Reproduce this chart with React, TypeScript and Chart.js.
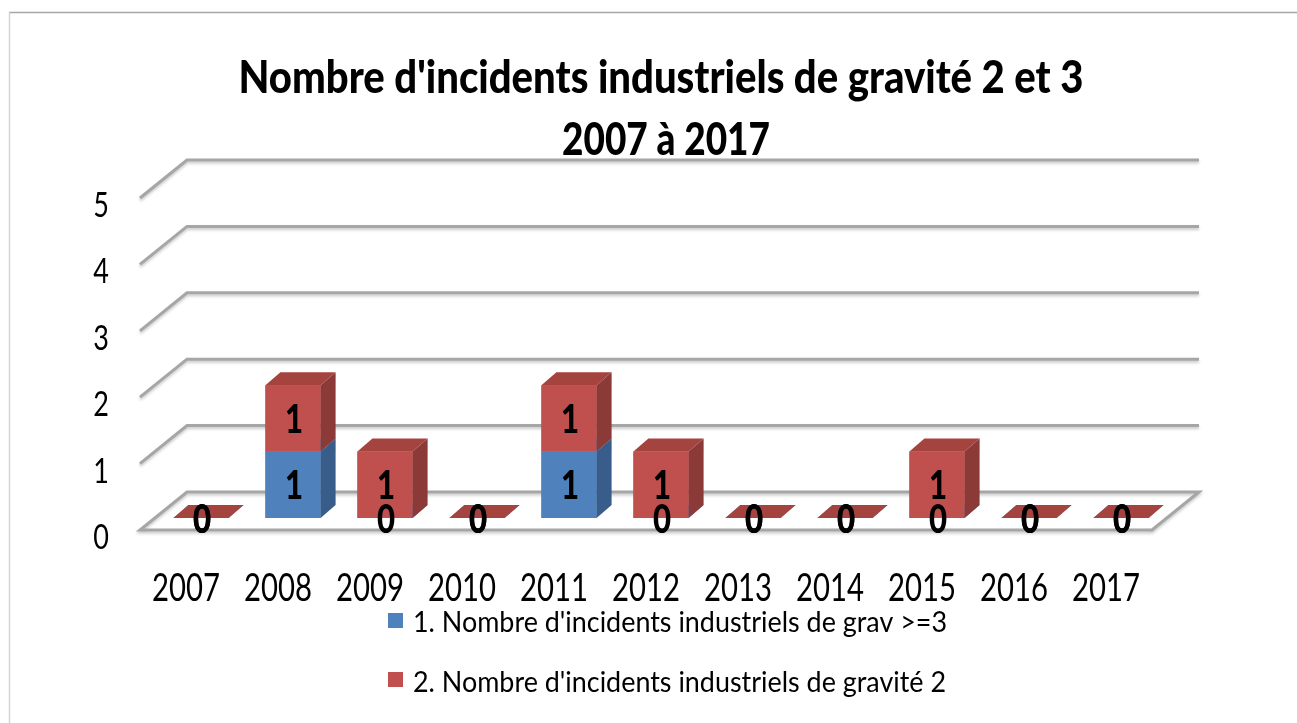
import React, { useEffect, useRef } from 'react';
import { Chart, registerables } from 'chart.js';

Chart.register(...registerables);

// ---------- data ----------
const categories = ['2007', '2008', '2009', '2010', '2011', '2012', '2013', '2014', '2015', '2016', '2017'];
const seriesGravite3 = [0, 1, 0, 0, 1, 0, 0, 0, 0, 0, 0];
const seriesGravite2 = [0, 1, 1, 0, 1, 1, 0, 0, 1, 0, 0];
const seriesNames = [
  "1. Nombre d'incidents industriels de grav >=3",
  "2. Nombre d'incidents industriels de gravité 2",
];
const yTickValues = [0, 1, 2, 3, 4, 5];
const titleLines = ["Nombre d'incidents industriels de gravité 2 et 3", '2007 à 2017'];

// ---------- styles ----------
const frontColors = ['#4f81bd', '#c0504d'];
const sideColors = ['#385d8a', '#8b3a37'];
const topColors = ['#5a8ac6', '#a5433f'];
const FONT = 'Lato, "Open Sans", "DejaVu Sans", sans-serif';
const FLOOR_FRONT = { dx: -15, dy: 12 };
const BACK = { dx: 32, dy: -26 };
const BAR_DEPTH = { dx: 15, dy: -13 };

function drawText(ctx: any, text: string, x: number, y: number, font: string, sx: number, align: string = 'center', color: string = '#000') {
  ctx.save();
  ctx.font = font;
  ctx.fillStyle = color;
  ctx.textAlign = align;
  ctx.textBaseline = 'alphabetic';
  ctx.translate(x, y);
  ctx.scale(sx, 1);
  ctx.fillText(text, 0, 0);
  ctx.restore();
}

function fitScale(ctx: any, text: string, font: string, target: number) {
  ctx.save();
  ctx.font = font;
  const w = ctx.measureText(text).width;
  ctx.restore();
  return w > 0 ? target / w : 1;
}

function poly(ctx: any, pts: number[][], color: string) {
  ctx.beginPath();
  ctx.moveTo(pts[0][0], pts[0][1]);
  for (let i = 1; i < pts.length; i++) ctx.lineTo(pts[i][0], pts[i][1]);
  ctx.closePath();
  ctx.fillStyle = color;
  ctx.fill();
}

const excel3dPlugin = {
  id: 'excel3d',
  beforeDraw(chart: any) {
    const ctx = chart.ctx;
    ctx.save();
    ctx.fillStyle = '#ffffff';
    ctx.fillRect(0, 0, chart.width, chart.height);
    // outer frame
    ctx.strokeStyle = '#a6a6a6';
    ctx.lineWidth = 1.5;
    ctx.beginPath();
    ctx.moveTo(9, 12.5);
    ctx.lineTo(chart.width, 12.5);
    ctx.stroke();
    ctx.strokeStyle = '#d6d6d6';
    ctx.beginPath();
    ctx.moveTo(9.5, 12.5);
    ctx.lineTo(9.5, chart.height);
    ctx.stroke();
    ctx.restore();
  },
  beforeDatasetsDraw(chart: any) {
    const ctx = chart.ctx;
    const { left, right } = chart.chartArea;
    const ys = chart.scales.y;
    ctx.save();
    ctx.strokeStyle = '#a6a6a6';
    ctx.lineWidth = 3;
    ctx.lineJoin = 'miter';
    ctx.shadowColor = 'rgba(0,0,0,0.22)';
    ctx.shadowBlur = 3;
    ctx.shadowOffsetY = 2;
    for (const v of yTickValues) {
      const py = ys.getPixelForValue(v);
      ctx.beginPath();
      ctx.moveTo(right + BACK.dx, py + BACK.dy);
      ctx.lineTo(left + BACK.dx, py + BACK.dy);
      ctx.lineTo(left + FLOOR_FRONT.dx, py + FLOOR_FRONT.dy);
      if (v === 0) {
        ctx.lineTo(right + FLOOR_FRONT.dx, py + FLOOR_FRONT.dy);
        ctx.closePath();
      }
      ctx.stroke();
    }
    ctx.restore();
  },
  afterDatasetsDraw(chart: any) {
    const ctx = chart.ctx;
    ctx.save();
    const n = chart.data.datasets.length;
    for (let d = 0; d < n; d++) {
      const meta = chart.getDatasetMeta(d);
      meta.data.forEach((el: any) => {
        el.draw(ctx, chart.chartArea);
        const l = el.x - el.width / 2;
        const r = el.x + el.width / 2;
        const top = Math.min(el.y, el.base);
        const bot = Math.max(el.y, el.base);
        // side face
        if (bot - top > 0.5) {
          poly(ctx, [[r, top], [r + BAR_DEPTH.dx, top + BAR_DEPTH.dy], [r + BAR_DEPTH.dx, bot + BAR_DEPTH.dy], [r, bot]], sideColors[d]);
        }
        // top face
        poly(ctx, [[l, top], [r, top], [r + BAR_DEPTH.dx, top + BAR_DEPTH.dy], [l + BAR_DEPTH.dx, top + BAR_DEPTH.dy]], topColors[d]);
      });
    }
    // data labels
    const labelFont = '900 40px ' + FONT;
    for (let d = 0; d < n; d++) {
      const meta = chart.getDatasetMeta(d);
      const values = chart.data.datasets[d].data;
      meta.data.forEach((el: any, i: number) => {
        const cy = (el.y + el.base) / 2;
        drawText(ctx, String(values[i]), el.x + 1, cy + 14.5, labelFont, 0.78);
      });
    }
    ctx.restore();
  },
  afterDraw(chart: any) {
    const ctx = chart.ctx;
    const xs = chart.scales.x;
    const ys = chart.scales.y;
    // title
    const tFont = '900 46px ' + FONT;
    drawText(ctx, titleLines[0], 661, 93, tFont, fitScale(ctx, titleLines[0], tFont, 845));
    drawText(ctx, titleLines[1], 666, 155, tFont, fitScale(ctx, titleLines[1], tFont, 208));
    // category labels
    const tickFont = '38px ' + FONT;
    const tsx = fitScale(ctx, '2007', tickFont, 68);
    categories.forEach((c, i) => {
      drawText(ctx, c, xs.getPixelForValue(i) + FLOOR_FRONT.dx, 601, tickFont, tsx);
    });
    // value labels
    yTickValues.forEach((v) => {
      drawText(ctx, String(v), 101, ys.getPixelForValue(v) + FLOOR_FRONT.dy + 19, '35px ' + FONT, tsx);
    });
    // legend
    const lFont = '29px ' + FONT;
    const lsx = fitScale(ctx, seriesNames[0], lFont, 534);
    const rows = [{ sq: 613, base: 632 }, { sq: 672, base: 692 }];
    seriesNames.forEach((name, i) => {
      ctx.save();
      ctx.fillStyle = frontColors[i];
      ctx.fillRect(388, rows[i].sq, 15, 15);
      ctx.restore();
      drawText(ctx, name, 413, rows[i].base, lFont, lsx, 'left');
    });
  },
};

export default function App() {
  const ref = useRef<HTMLCanvasElement>(null);
  useEffect(() => {
    document.body.style.margin = '0';
    document.body.style.overflow = 'hidden';
    const chart = new Chart(ref.current as HTMLCanvasElement, {
      type: 'bar',
      data: {
        labels: categories,
        datasets: [
          { label: seriesNames[0], data: seriesGravite3, backgroundColor: frontColors[0], borderWidth: 0, stack: 's' },
          { label: seriesNames[1], data: seriesGravite2, backgroundColor: frontColors[1], borderWidth: 0, stack: 's' },
        ],
      },
      options: {
        responsive: false,
        maintainAspectRatio: false,
        animation: false,
        layout: { padding: { left: 155, right: 130, top: 186, bottom: 205 } },
        datasets: { bar: { categoryPercentage: 1, barPercentage: 0.6 } },
        scales: {
          x: { type: 'category', stacked: true, display: false, offset: true },
          y: { stacked: true, min: 0, max: 5, display: false, ticks: { stepSize: 1 } },
        },
        plugins: {
          legend: { display: false },
          tooltip: { enabled: false },
          title: { display: false },
        },
        events: [],
      },
      plugins: [excel3dPlugin],
    });
    return () => chart.destroy();
  }, []);
  return (
    <div style={{ width: 1297, height: 723 }}>
      <canvas ref={ref} width={1297} height={723} style={{ display: 'block' }} />
    </div>
  );
}
